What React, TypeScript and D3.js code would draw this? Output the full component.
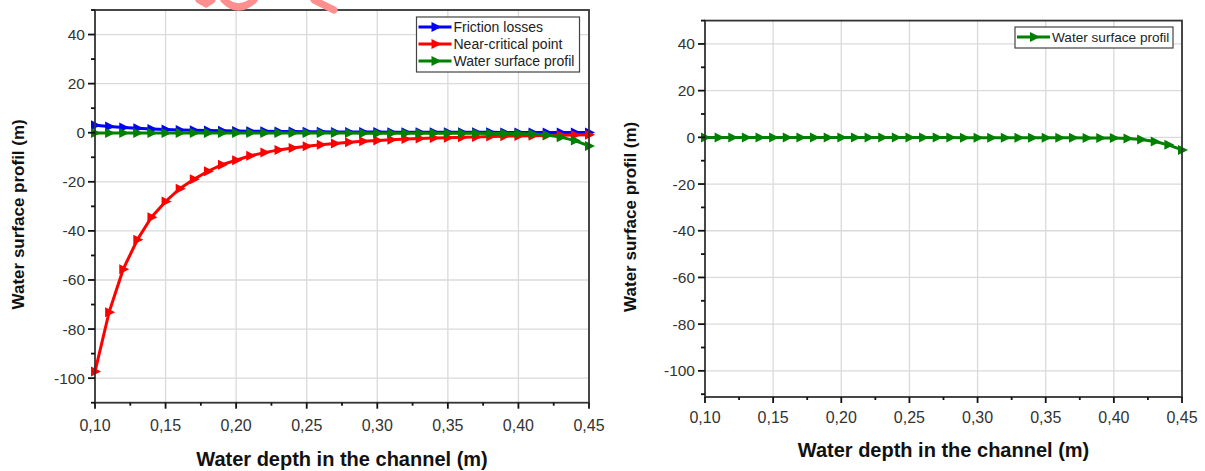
import React, { useEffect, useRef } from 'react';
import * as d3 from 'd3';

// water depth (m)
const depths = [0.10, 0.11, 0.12, 0.13, 0.14, 0.15, 0.16, 0.17, 0.18, 0.19,
  0.20, 0.21, 0.22, 0.23, 0.24, 0.25, 0.26, 0.27, 0.28, 0.29,
  0.30, 0.31, 0.32, 0.33, 0.34, 0.35, 0.36, 0.37, 0.38, 0.39,
  0.40, 0.41, 0.42, 0.43, 0.44, 0.45];

const frictionLosses = [3.0, 2.5, 2.1, 1.8, 1.5, 1.3, 1.1, 1.0, 0.9, 0.8,
  0.7, 0.6, 0.55, 0.5, 0.45, 0.4, 0.36, 0.33, 0.3, 0.28,
  0.26, 0.24, 0.22, 0.2, 0.19, 0.18, 0.17, 0.16, 0.15, 0.14,
  0.13, 0.12, 0.11, 0.1, 0.1, 0.1];

const nearCritical = [-97.3, -73.1, -55.6, -43.6, -34.4, -28.0, -22.8, -19.0, -15.7, -13.0,
  -11.2, -9.4, -8.1, -7.0, -6.2, -5.5, -4.9, -4.4, -3.9, -3.5,
  -3.2, -2.9, -2.6, -2.4, -2.2, -2.0, -1.8, -1.7, -1.5, -1.4,
  -1.3, -1.2, -1.1, -1.0, -0.9, -0.8];

const waterSurface = [-0.1, -0.1, -0.1, -0.1, -0.1, -0.1, -0.1, -0.1, -0.1, -0.1,
  -0.1, -0.1, -0.1, -0.1, -0.1, -0.1, -0.1, -0.1, -0.1, -0.2,
  -0.2, -0.2, -0.2, -0.2, -0.2, -0.2, -0.2, -0.2, -0.3, -0.3,
  -0.3, -0.5, -0.9, -1.8, -3.2, -5.4];

const xTicks = [0.10, 0.15, 0.20, 0.25, 0.30, 0.35, 0.40, 0.45];
const xMinor = [0.125, 0.175, 0.225, 0.275, 0.325, 0.375, 0.425];
const yTicks = [40, 20, 0, -20, -40, -60, -80, -100];
const yMinor = [50, 30, 10, -10, -30, -50, -70, -90, -110];

const xTitle = 'Water depth in the channel (m)';
const yTitle = 'Water surface profil (m)';

const leftSeries = [
  { name: 'Friction losses', color: '#0000ff', values: frictionLosses },
  { name: 'Near-critical point', color: '#ff0000', values: nearCritical },
  { name: 'Water surface profil', color: '#008000', values: waterSurface },
];
const rightSeries = [
  { name: 'Water surface profil', color: '#008000', values: waterSurface },
];

const FONT = '"Liberation Sans", Arial, sans-serif';
const fmt = (v: number) => d3.format('.2f')(v).replace('.', ',');
const tri = 'M-4,-5L6,0L-4,5Z';

function drawPanel(g: any, o: any) {
  const x = d3.scaleLinear().domain([0.10, 0.45]).range([o.x0, o.x1]);
  const y = d3.scaleLinear().domain(o.yDomain).range([o.y1, o.y0]);

  // grid
  g.append('g').selectAll('line').data(xTicks.slice(1, -1)).enter().append('line')
    .attr('x1', (d: number) => x(d)).attr('x2', (d: number) => x(d))
    .attr('y1', o.y0).attr('y2', o.y1)
    .attr('stroke', '#dadada').attr('stroke-width', 1.3);
  g.append('g').selectAll('line').data(yTicks).enter().append('line')
    .attr('x1', o.x0).attr('x2', o.x1)
    .attr('y1', (d: number) => y(d)).attr('y2', (d: number) => y(d))
    .attr('stroke', '#dadada').attr('stroke-width', 1.3);

  // series
  const line = d3.line<number>().x((d, i) => x(depths[i])).y(d => y(d));
  o.series.forEach((s: any) => {
    g.append('path').datum(s.values).attr('d', line)
      .attr('fill', 'none').attr('stroke', s.color).attr('stroke-width', 3);
    g.append('g').selectAll('path').data(s.values).enter().append('path')
      .attr('d', tri)
      .attr('transform', (d: number, i: number) => `translate(${x(depths[i])},${y(d)})`)
      .attr('fill', s.color);
  });

  // frame
  g.append('rect').attr('x', o.x0).attr('y', o.y0)
    .attr('width', o.x1 - o.x0).attr('height', o.y1 - o.y0)
    .attr('fill', 'none').attr('stroke', '#333').attr('stroke-width', 1.8);

  // y ticks
  g.append('g').selectAll('line').data(yTicks).enter().append('line')
    .attr('x1', o.x0 - 7).attr('x2', o.x0)
    .attr('y1', (d: number) => y(d)).attr('y2', (d: number) => y(d))
    .attr('stroke', '#111').attr('stroke-width', 1.8);
  g.append('g').selectAll('line').data(yMinor).enter().append('line')
    .attr('x1', o.x0 - 4).attr('x2', o.x0)
    .attr('y1', (d: number) => y(d)).attr('y2', (d: number) => y(d))
    .attr('stroke', '#111').attr('stroke-width', 1.8);
  g.append('g').selectAll('text').data(yTicks).enter().append('text')
    .attr('x', o.x0 - 10).attr('y', (d: number) => y(d) + 5.5)
    .attr('text-anchor', 'end').attr('font-size', 15.5).attr('fill', '#333')
    .attr('font-family', FONT).text((d: number) => d);

  // x ticks
  g.append('g').selectAll('line').data(xTicks).enter().append('line')
    .attr('x1', (d: number) => x(d)).attr('x2', (d: number) => x(d))
    .attr('y1', o.y1).attr('y2', o.y1 + 6)
    .attr('stroke', '#111').attr('stroke-width', 1.8);
  g.append('g').selectAll('line').data(xMinor).enter().append('line')
    .attr('x1', (d: number) => x(d)).attr('x2', (d: number) => x(d))
    .attr('y1', o.y1).attr('y2', o.y1 + 3)
    .attr('stroke', '#111').attr('stroke-width', 1.8);
  g.append('g').selectAll('text').data(xTicks).enter().append('text')
    .attr('x', (d: number) => x(d)).attr('y', o.xLabelY)
    .attr('text-anchor', 'middle').attr('font-size', 16).attr('fill', '#333')
    .attr('font-family', FONT).text((d: number) => fmt(d));

  // titles
  g.append('text').attr('x', (o.x0 + o.x1) / 2).attr('y', o.xTitleY)
    .attr('text-anchor', 'middle').attr('font-size', 20).attr('font-weight', 'bold')
    .attr('fill', '#111').attr('font-family', FONT).text(xTitle);
  g.append('text')
    .attr('transform', `translate(${o.yTitleX},${(o.y0 + o.y1) / 2 + 8}) rotate(-90)`)
    .attr('text-anchor', 'middle').attr('font-size', 17).attr('font-weight', 'bold')
    .attr('fill', '#111').attr('font-family', FONT).text(yTitle);

  // legend
  const lg = g.append('g').attr('transform', `translate(${o.legX},${o.legY})`);
  lg.append('rect').attr('width', o.legW).attr('height', o.series.length * 17 + 4)
    .attr('fill', '#fff').attr('stroke', '#444').attr('stroke-width', 1.2);
  o.series.forEach((s: any, i: number) => {
    const cy = 10 + i * 17;
    lg.append('line').attr('x1', 2).attr('x2', 35).attr('y1', cy).attr('y2', cy)
      .attr('stroke', s.color).attr('stroke-width', 3);
    lg.append('path').attr('d', tri).attr('transform', `translate(19,${cy})`).attr('fill', s.color);
    lg.append('text').attr('x', 37).attr('y', cy + 5)
      .attr('font-size', o.legFont).attr('fill', '#222').attr('font-family', FONT).text(s.name);
  });
}

export default function App() {
  const ref = useRef<SVGSVGElement>(null);

  useEffect(() => {
    const svg = d3.select(ref.current);
    svg.selectAll('*').remove();

    drawPanel(svg.append('g'), {
      x0: 95, x1: 589, y0: 10, y1: 402.7, yDomain: [-110, 50],
      xLabelY: 431, xTitleY: 466, yTitleX: 24,
      legX: 416.5, legY: 17, legW: 163, legFont: 14, series: leftSeries,
    });
    drawPanel(svg.append('g'), {
      x0: 705, x1: 1182, y0: 20.6, y1: 397, yDomain: [-111.2, 50],
      xLabelY: 422.5, xTitleY: 457, yTitleX: 636,
      legX: 1015, legY: 27, legW: 158, legFont: 13.6, series: rightSeries,
    });

    // faint watermark fragment at the top edge
    const wm = svg.append('g').attr('fill', 'none').attr('stroke', '#ff8f8f')
      .attr('stroke-width', 7).attr('stroke-linecap', 'round');
    wm.append('path').attr('d', 'M199,0 L206,4 L212,0');
    wm.append('path').attr('d', 'M224,0 Q238,14 254,0');
    wm.append('path').attr('d', 'M314,0 L334,10');
  }, []);

  return (
    <svg ref={ref} width={1205} height={471}
      style={{ position: 'absolute', left: 0, top: 0, background: '#fff' }} />
  );
}
